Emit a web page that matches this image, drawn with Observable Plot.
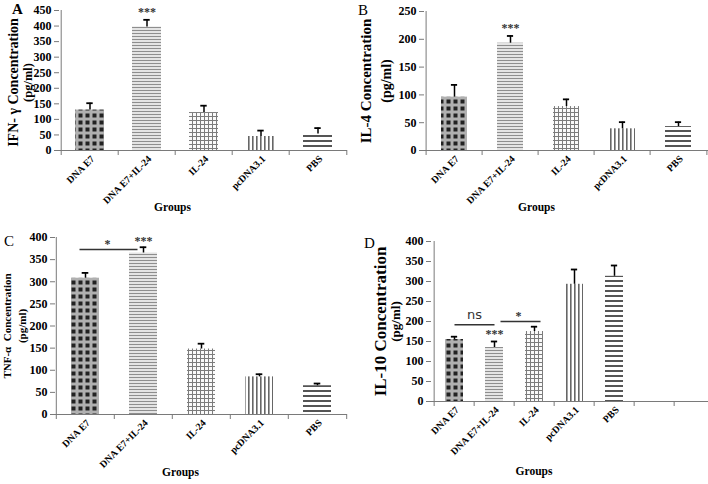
<!DOCTYPE html>
<html><head><meta charset="utf-8">
<script src="https://cdn.jsdelivr.net/npm/d3@7"></script>
<script src="https://cdn.jsdelivr.net/npm/@observablehq/plot@0.6"></script>
<style>
body{margin:0;background:#fff;}
#wrap{position:relative;width:708px;height:484px;overflow:hidden;font-family:"Liberation Serif",serif;}
.panel{position:absolute;}
.letter{position:absolute;font-family:"Liberation Serif",serif;font-size:15px;color:#000;line-height:1;}
</style></head><body>
<svg width="0" height="0" style="position:absolute">
<defs>
<pattern id="pa0" width="7" height="7" patternUnits="userSpaceOnUse">
 <rect width="7" height="7" fill="#b0b0b0"/>
 <rect x="1.5" y="1.5" width="4" height="4" fill="#222"/>
</pattern>
<pattern id="pa1" width="3" height="3" patternUnits="userSpaceOnUse">
 <rect width="3" height="3" fill="#e4e4e4"/>
 <rect width="3" height="1" fill="#8e8e8e"/>
</pattern>
<pattern id="pa2" width="4" height="4" patternUnits="userSpaceOnUse">
 <rect width="4" height="4" fill="#fafafa"/>
 <rect width="4" height="1" fill="#7c7c7c"/>
 <rect width="1" height="4" fill="#7c7c7c"/>
</pattern>
<pattern id="pa3" width="4" height="4" patternUnits="userSpaceOnUse">
 <rect width="4" height="4" fill="#fff"/>
 <rect width="1.6" height="4" fill="#666"/>
</pattern>
<pattern id="pa4" width="5" height="5" patternUnits="userSpaceOnUse">
 <rect width="5" height="5" fill="#fff"/>
 <rect width="5" height="2" fill="#555"/>
</pattern>
</defs>
</svg>
<div id="wrap"></div>
<script>
// ---- data ----
const groups = ["DNA E7", "DNA E7+IL-24", "IL-24", "pcDNA3.1", "PBS"];
const ifnMean = [130, 397, 122, 45, 53];
const ifnErr  = [152, 420, 144, 64, 72];
const il4Mean = [96, 193, 79, 39, 43];
const il4Err  = [118, 206, 92, 51, 51];
const tnfMean = [308, 365, 148, 85, 65];
const tnfErr  = [320, 378, 160, 91, 70];
const il10Mean = [155, 135, 175, 293, 313];
const il10Err  = [162, 150, 187, 330, 340];
const ticksA = [0, 50, 100, 150, 200, 250, 300, 350, 400, 450];
const ticksB = [0, 50, 100, 150, 200, 250];
const ticksCD = [0, 50, 100, 150, 200, 250, 300, 350, 400];
const patterns = ["url(#pa0)", "url(#pa1)", "url(#pa2)", "url(#pa3)", "url(#pa4)"];

const wrap = document.getElementById("wrap");
const SERIF = "Liberation Serif";

function panel(o) {
  const domain = o.extraBands ? [...groups, ...o.extraBands] : groups;
  const rows = groups.map((g, i) => ({g, v: o.mean[i], e: o.err[i], fill: patterns[i]}));
  const bw = (o.width - o.ml - o.mr) / domain.length;
  const frameH = o.height - o.mt - o.mb;
  const marks = [];
  rows.forEach(r => marks.push(Plot.barY([r], {x: "g", y: "v", fill: r.fill, insetLeft: o.inset, insetRight: o.inset})));
  marks.push(Plot.ruleX(rows, {x: "g", y1: "v", y2: "e", stroke: "#000", strokeWidth: 1.5}));
  marks.push(Plot.tickY(rows, {x: "g", y: "e", stroke: "#000", strokeWidth: 1.8, insetLeft: (bw - 7) / 2, insetRight: (bw - 7) / 2}));
  // axes lines & ticks
  marks.push(Plot.ruleY([0], {stroke: "#7a7a7a"}));
  marks.push(Plot.ruleX([domain[0]], {x: d => d, dx: -bw / 2, stroke: "#7a7a7a"}));
  marks.push(Plot.ruleX(domain, {x: d => d, dx: -bw / 2, insetTop: frameH - 5, dy: 5, stroke: "#7a7a7a"}));
  if (!o.extraBands) marks.push(Plot.ruleX([domain[domain.length - 1]], {x: d => d, dx: bw / 2, insetTop: frameH - 5, dy: 5, stroke: "#7a7a7a"}));
  marks.push(Plot.axisY({ticks: o.ticks, tickSize: 5, tickPadding: 3, stroke: "#7a7a7a", fill: "#000", fontSize: 12, fontWeight: "bold", label: null, tickFormat: d => d}));
  marks.push(Plot.text(groups, {x: d => d, frameAnchor: "bottom", rotate: -45, textAnchor: "end", dx: 5, dy: 9, fontSize: 9.8, fontWeight: "bold", fill: "#000"}));
  // titles
  marks.push(Plot.text([o.t1], {frameAnchor: "left", textAnchor: "middle", rotate: -90, dx: o.t1dx, dy: o.tdy || 0, fontSize: o.t1size, fontWeight: "bold", fill: "#000"}));
  marks.push(Plot.text(["(pg/ml)"], {frameAnchor: "left", textAnchor: "middle", rotate: -90, dx: o.t2dx, dy: o.tdy || 0, fontSize: o.t2size, fontWeight: "bold", fill: "#000"}));
  marks.push(Plot.text(["Groups"], {frameAnchor: "bottom", dx: o.gdx, dy: o.gdy, fontSize: 11.5, fontWeight: "bold", fill: "#000"}));
  if (o.extra) marks.push(...o.extra(rows));
  const svg = Plot.plot({
    width: o.width, height: o.height,
    marginLeft: o.ml, marginRight: o.mr, marginTop: o.mt, marginBottom: o.mb,
    style: {fontFamily: SERIF, color: "#000", background: "transparent", overflow: "visible"},
    x: {type: "band", domain, paddingInner: 0, paddingOuter: 0, axis: null},
    y: {domain: [0, o.yMax], axis: null},
    marks
  });
  svg.classList.add("panel");
  svg.style.left = o.left + "px";
  svg.style.top = o.top + "px";
  wrap.appendChild(svg);
}

const star = (x, y, dy, txt, extra = {}) => Plot.text([{x, y}], {x: "x", y: "y", text: () => txt, dy, fontSize: 12, fontWeight: "bold", fill: "#333", ...extra});

panel({left: 0, top: 0, width: 354, height: 242, ml: 59, mr: 7, mt: 10, mb: 92,
  yMax: 450, ticks: ticksA, mean: ifnMean, err: ifnErr, inset: 14,
  t1: "IFN- γ Concentration", t1size: 14, t1dx: -46, t2size: 12.5, t2dx: -32, tdy: 2,
  gdx: -31, gdy: 60,
  extra: () => [star(groups[1], ifnErr[1], -8, "***")]});

panel({left: 354, top: 0, width: 356, height: 242, ml: 70, mr: 2, mt: 11, mb: 92,
  yMax: 250, ticks: ticksB, mean: il4Mean, err: il4Err, inset: 15,
  t1: "IL-4 Concentration", t1size: 15, t1dx: -58, t2size: 14, t2dx: -38,
  gdx: -30, gdy: 60,
  extra: () => [star(groups[1], il4Err[1], -8, "***")]});

panel({left: 0, top: 230, width: 354, height: 254, ml: 55, mr: 7, mt: 7, mb: 70,
  yMax: 400, ticks: ticksCD, mean: tnfMean, err: tnfErr, inset: 15,
  t1: "TNF-α  Concentration", t1size: 11, t1dx: -48, t2size: 11, t2dx: -33,
  gdx: -21, gdy: 61,
  extra: () => [
    Plot.link([{a: groups[0], b: groups[1], y: 373}], {x1: "a", x2: "b", y1: "y", y2: "y", dx: -6, stroke: "#333", strokeWidth: 1.5}),
    star(groups[0], 373, -5, "*", {dx: 22}),
    star(groups[1], tnfErr[1], -6, "***")
  ]});

panel({left: 354, top: 230, width: 364, height: 254, ml: 77, mr: 2, mt: 11, mb: 83,
  yMax: 400, ticks: ticksCD, mean: il10Mean, err: il10Err, inset: 11, extraBands: ["", " "],
  t1: "IL-10 Concentration", t1size: 17, t1dx: -51, t2size: 13, t2dx: -36,
  gdx: -40, gdy: 73,
  extra: () => [
    Plot.link([{a: groups[0], b: groups[1], y: 192}], {x1: "a", x2: "b", y1: "y", y2: "y", stroke: "#333", strokeWidth: 1.5}),
    Plot.link([{a: groups[1], b: groups[2], y: 200}], {x1: "a", x2: "b", y1: "y", y2: "y", dx: 6, stroke: "#333", strokeWidth: 1.5}),
    star(groups[0], 192, -10, "ns", {dx: 20, fontFamily: "DejaVu Sans", fontWeight: "normal", fontSize: 13}),
    star(groups[1], 200, -5, "*", {dx: 24}),
    star(groups[1], il10Err[1], -7, "***")
  ]});

// panel letters
[["A", 12, 2, "bold"], ["B", 358, 3, "normal"], ["C", 4, 234, "normal"], ["D", 364, 236, "normal"]].forEach(([t, x, y, w]) => {
  const d = document.createElement("div");
  d.className = "letter";
  d.textContent = t;
  d.style.left = x + "px"; d.style.top = y + "px"; d.style.fontWeight = w;
  wrap.appendChild(d);
});
</script>
</body></html>
